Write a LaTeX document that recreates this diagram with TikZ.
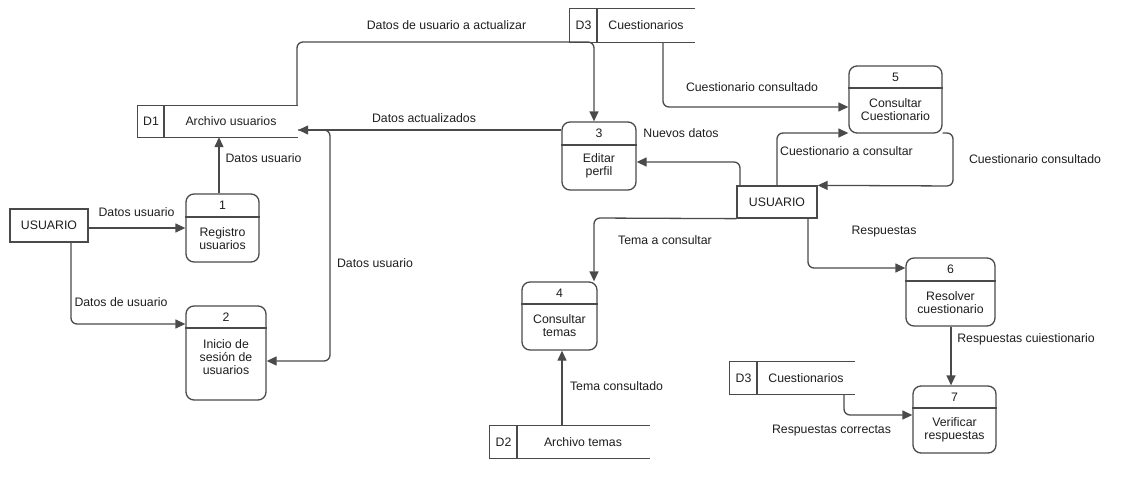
\documentclass[tikz,border=0pt]{standalone}
\usepackage{fontspec}
\setmainfont{Liberation Sans}
\usetikzlibrary{arrows.meta}
\definecolor{linec}{HTML}{4A4A4A}
\definecolor{txtc}{HTML}{1E1E1E}
\begin{document}
\begin{tikzpicture}[x=1pt,y=-1pt,
  every node/.style={font=\fontsize{12.3}{13}\selectfont, text=txtc, align=center},
  proc/.style={draw=linec, line width=1.3pt, rounded corners=8pt, fill=white, inner sep=0pt},
  ext/.style={draw=linec, line width=1.3pt, fill=white, inner sep=0pt},
  store/.style={inner sep=0pt},
  div/.style={draw=linec, line width=1.1pt},
  lbl/.style={inner sep=0pt},
  flow/.style={draw=linec, line width=1.3pt, rounded corners=6pt, -{Triangle[length=10pt,width=9pt]}},
  plain/.style={draw=linec, line width=1.3pt, rounded corners=6pt}]
\useasboundingbox (0,0) rectangle (1144,498);

% ---------- external entities ----------
\node[ext, minimum width=78pt, minimum height=33pt] (u1) at (49,225.5) {USUARIO};
\node[ext, minimum width=80pt, minimum height=32pt] (u2) at (777,202) {USUARIO};

% ---------- processes ----------
% p1
\node[proc, minimum width=73pt, minimum height=68pt] (p1) at (222.5,228) {};
\draw[div] (p1.west |- 0,217) -- (p1.east |- 0,217);
\node (p1n) at (222.5,205.5) {1};
\node (p1t) at (222.5,238.5) {Registro\\usuarios};
% p2
\node[proc, minimum width=80pt, minimum height=94pt] (p2) at (226,353) {};
\draw[div] (p2.west |- 0,328) -- (p2.east |- 0,328);
\node (p2n) at (226,317) {2};
\node (p2t) at (226,357) {Inicio de\\sesión de\\usuarios};
% p3
\node[proc, minimum width=74pt, minimum height=68pt] (p3) at (599,156) {};
\draw[div] (p3.west |- 0,145) -- (p3.east |- 0,145);
\node (p3n) at (599,133.5) {3};
\node (p3t) at (599,166) {Editar\\perfil};
% p4
\node[proc, minimum width=75pt, minimum height=68pt] (p4) at (559.5,316) {};
\draw[div] (p4.west |- 0,304) -- (p4.east |- 0,304);
\node (p4n) at (559.5,293) {4};
\node (p4t) at (559.5,326) {Consultar\\temas};
% p5
\node[proc, minimum width=93pt, minimum height=67pt] (p5) at (895.5,99.5) {};
\draw[div] (p5.west |- 0,88) -- (p5.east |- 0,88);
\node (p5n) at (895.5,77) {5};
\node (p5t) at (895.5,110) {Consultar\\Cuestionario};
% p6
\node[proc, minimum width=89pt, minimum height=68pt] (p6) at (950.5,292) {};
\draw[div] (p6.west |- 0,281) -- (p6.east |- 0,281);
\node (p6n) at (950.5,269.5) {6};
\node (p6t) at (950.5,302.5) {Resolver\\cuestionario};
% p7
\node[proc, minimum width=83pt, minimum height=67pt] (p7) at (954.5,419.5) {};
\draw[div] (p7.west |- 0,408) -- (p7.east |- 0,408);
\node (p7n) at (954.5,397) {7};
\node (p7t) at (954.5,429.5) {Verificar\\respuestas};

% ---------- data stores ----------
% D1
\node[store, minimum width=160pt, minimum height=31pt] (d1) at (218,121.5) {};
\draw[div, line width=1.3pt] (d1.north east) -- (d1.north west) -- (d1.south west) -- (d1.south east);
\draw[div] (164,0 |- d1.north) -- (164,0 |- d1.south);
\node (d1a) at (151,121.5) {D1};
\node (d1b) at (231,121.5) {Archivo usuarios};
% D3 top
\node[store, minimum width=125pt, minimum height=33pt] (d3a) at (632.5,25.5) {};
\draw[div, line width=1.3pt] (d3a.north east) -- (d3a.north west) -- (d3a.south west) -- (d3a.south east);
\draw[div] (597,0 |- d3a.north) -- (597,0 |- d3a.south);
\node (d3aa) at (583.5,25.5) {D3};
\node (d3ab) at (646,25.5) {Cuestionarios};
% D2
\node[store, minimum width=160pt, minimum height=32pt] (d2) at (570,442) {};
\draw[div, line width=1.3pt] (d2.north east) -- (d2.north west) -- (d2.south west) -- (d2.south east);
\draw[div] (517,0 |- d2.north) -- (517,0 |- d2.south);
\node (d2a) at (503.5,442) {D2};
\node (d2b) at (583,442) {Archivo temas};
% D3 bottom
\node[store, minimum width=125pt, minimum height=32pt] (d3b) at (792.5,378) {};
\draw[div, line width=1.3pt] (d3b.north east) -- (d3b.north west) -- (d3b.south west) -- (d3b.south east);
\draw[div] (757,0 |- d3b.north) -- (757,0 |- d3b.south);
\node (d3ba) at (743.5,378) {D3};
\node (d3bb) at (806,378) {Cuestionarios};

% ---------- flows ----------
\draw[flow] (u1.east |- p1.west) -- (p1.west);
\node[lbl] (l1) at (136.5,212) {Datos usuario};

\draw[flow] (u1.south -| 71,0) |- (p2.west |- 0,324);
\node[lbl] (l2) at (121,302) {Datos de usuario};

\draw[flow] (p1.north -| 219,0) -- (d1.south -| 219,0);
\node[lbl] (l3) at (263.5,158) {Datos usuario};

\draw[flow] (d1.east |- 0,130) -- (330,130) -- (330,361) -- (p2.east |- 0,361);
\node[lbl] (l4) at (375,263) {Datos usuario};

\draw[flow] (p3.west |- 0,130) -- (d1.east |- 0,130);
\node[lbl] (l5) at (424,118) {Datos actualizados};

\draw[flow] (d1.north -| 297,0) -- (297,42) -- (594,42) -- (p3.north -| 594,0);
\node[lbl] (l6) at (446.5,25) {Datos de usuario a actualizar};

\draw[flow] (d3a.south -| 663,0) |- (p5.west |- 0,107);
\node[lbl] (l7) at (752,87) {Cuestionario consultado};

\draw[flow] (u2.north -| 777,0) |- (p5.west |- 0,133);
\node[lbl] (l8) at (846.5,151) {Cuestionario a consultar};

\draw[flow] (p5.east |- 0,133) -- (953,133) -- (953,186) -- (u2.north east);
\node[lbl] (l9) at (1035,159) {Cuestionario consultado};

\draw[flow] (u2.north -| 740,0) |- (p3.east |- 0,162);
\node[lbl] (l10) at (681,133) {Nuevos datos};

\draw[flow] (u2.south west) -- (594,218) -- (p4.north -| 594,0);
\node[lbl] (l11) at (665,240) {Tema a consultar};

\draw[flow] (d2.north -| 562,0) -- (p4.south -| 562,0);
\node[lbl] (l12) at (616.5,386) {Tema consultado};

\draw[flow] (u2.south -| 808,0) |- (p6.west |- 0,268);
\node[lbl] (l13) at (884,232) {Respuestas};

\draw[flow] (p6.south -| 951,0) -- (p7.north -| 951,0);
\node[lbl] (l14) at (1026,339) {Respuestas cuiestionario};

\draw[flow] (d3b.south -| 844,0) |- (p7.west |- 0,415);
\node[lbl] (l15) at (831.5,431) {Respuestas correctas};
\end{tikzpicture}
\end{document}
